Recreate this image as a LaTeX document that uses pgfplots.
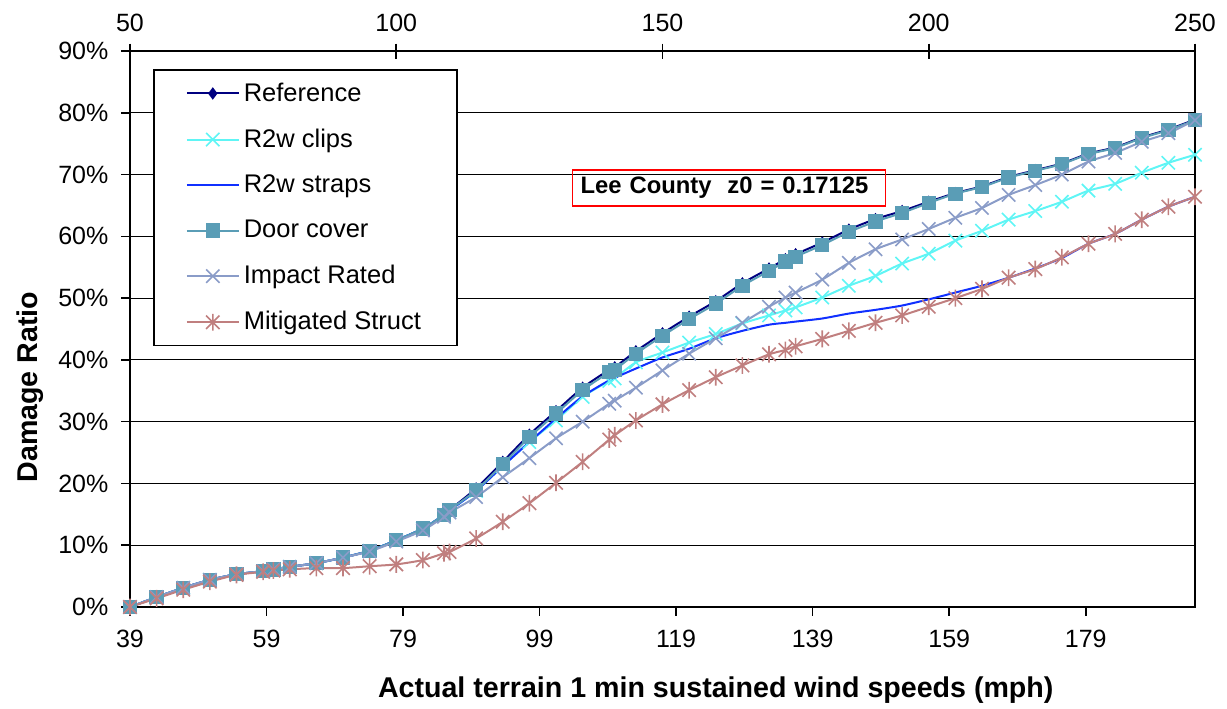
\documentclass[border=0pt]{standalone}
\usepackage{fontspec}
\setmainfont{Liberation Sans}
\usepackage{pgfplots}
\pgfplotsset{compat=1.18}
\definecolor{cref}{HTML}{000080}
\definecolor{cclips}{HTML}{5FF5F5}
\definecolor{cstraps}{HTML}{1030FF}
\definecolor{cdoor}{HTML}{5A9DB6}
\definecolor{cimpact}{HTML}{8A9CC8}
\definecolor{cmitig}{HTML}{C07F7F}
\pgfdeclareplotmark{xstar}{%
  \pgfpathmoveto{\pgfqpoint{0pt}{\pgfplotmarksize}}%
  \pgfpathlineto{\pgfqpoint{0pt}{-\pgfplotmarksize}}%
  \pgfpathmoveto{\pgfqpoint{-.8\pgfplotmarksize}{-.8\pgfplotmarksize}}%
  \pgfpathlineto{\pgfqpoint{.8\pgfplotmarksize}{.8\pgfplotmarksize}}%
  \pgfpathmoveto{\pgfqpoint{-.8\pgfplotmarksize}{.8\pgfplotmarksize}}%
  \pgfpathlineto{\pgfqpoint{.8\pgfplotmarksize}{-.8\pgfplotmarksize}}%
  \pgfusepathqstroke}
\begin{document}
\begin{tikzpicture}
\useasboundingbox (0,0) rectangle (613.5pt,354pt);
\begin{axis}[
  at={(65pt,50.5pt)}, anchor=south west,
  scale only axis, width=532.5pt, height=278pt,
  xmin=50, xmax=250, ymin=0, ymax=90,
  xtick={50,75.641,101.282,126.923,152.564,178.205,203.846,229.487},
  xticklabels={39,59,79,99,119,139,159,179},
  ytick={0,10,20,30,40,50,60,70,80,90},
  yticklabels={0\%,10\%,20\%,30\%,40\%,50\%,60\%,70\%,80\%,90\%},
  xtick pos=bottom, ytick pos=left,
  tick align=outside, major tick length=4.3pt,
  tick style={black, line width=0.8pt},
  ymajorgrids, major grid style={black, line width=0.6pt},
  axis line style={black, line width=1pt},
  tick label style={font=\fontsize{12.5}{14}\selectfont},
  yticklabel style={xshift=-3pt},
  xticklabel style={yshift=-3.5pt},
  xlabel={Actual terrain 1 min sustained wind speeds (mph)},
  ylabel={Damage Ratio},
  label style={font=\bfseries\fontsize{14.3}{16}\selectfont},
  xlabel style={at={(axis description cs:0.550,-0.149)}, anchor=center},
  ylabel style={at={(axis description cs:-0.0939,0.3955)}, anchor=center},
  legend style={at={(axis description cs:0.0216,0.967)}, anchor=north west,
    draw=black, line width=0.8pt, fill=white,
    font=\fontsize{12.75}{14}\selectfont, row sep=8.3pt,
    inner xsep=16pt, inner ysep=4.3pt},
  legend cell align=left,
  legend image code/.code={\draw[mark repeat=2,mark phase=2] plot coordinates {(0pt,0pt) (13pt,0pt) (26pt,0pt)};},
  every axis plot/.append style={smooth, tension=0.4},
]
% Reference
\addplot[color=cref, line width=1pt, mark=diamond*, mark size=2.3pt, mark options={solid, fill=cref}] coordinates {
(50,0) (55,1.6) (60,3.1) (65,4.4) (70,5.3) (75,5.8) (76.92,6.1) (80,6.5) (85,7.1) (90,8.0) (95,9.1) (100,10.8) (105,12.7) (108.97,14.9) (110,15.7) (115,19.2) (120,23.5) (125,27.9) (130,31.7) (135,35.5) (140,38.4) (141.03,38.8) (145,41.4) (150,44.3) (155,47.0) (160,49.5) (165,52.4) (170,54.8) (173.08,56.3) (175,57.1) (180,59.0) (185,61.1) (190,62.8) (195,64.1) (200,65.6) (205,67.0) (210,68.1) (215,69.6) (220,70.7) (225,71.8) (230,73.4) (235,74.4) (240,76.0) (245,77.3) (250,78.9)};
\addlegendentry{Reference}
% R2w clips
\addplot[color=cclips, line width=1pt, mark=x, mark size=4.7pt, mark options={solid, line width=0.8pt}] coordinates {
(50,0) (55,1.6) (60,3.1) (65,4.4) (70,5.3) (75,5.8) (76.92,6.1) (80,6.5) (85,7.1) (90,8.0) (95,9.1) (100,10.8) (105,12.7) (108.97,14.9) (110,15.6) (115,18.8) (120,22.8) (125,26.7) (130,30.2) (135,34.0) (140,36.6) (141.03,37.0) (145,39.6) (150,41.2) (155,42.8) (160,44.2) (165,45.9) (170,47.2) (173.08,48.0) (175,48.5) (180,50.1) (185,52.0) (190,53.6) (195,55.6) (200,57.2) (205,59.3) (210,60.9) (215,62.7) (220,64.1) (225,65.6) (230,67.4) (235,68.5) (240,70.3) (245,71.9) (250,73.2)};
\addlegendentry{R2w clips}
% R2w straps
\addplot[color=cstraps, line width=1pt, no marks] coordinates {
(50,0) (55,1.6) (60,3.1) (65,4.4) (70,5.3) (75,5.8) (76.92,6.1) (80,6.5) (85,7.1) (90,8.0) (95,9.1) (100,10.8) (105,12.7) (108.97,14.9) (110,15.6) (115,18.8) (120,22.8) (125,26.7) (130,30.5) (135,34.1) (140,36.7) (141.03,37.1) (145,38.6) (150,40.4) (155,41.8) (160,43.5) (165,44.7) (170,45.7) (173.08,46.0) (175,46.2) (180,46.7) (185,47.5) (190,48.1) (195,48.8) (200,49.8) (205,50.9) (210,52.0) (215,53.3) (220,54.8) (225,56.5) (230,58.8) (235,60.4) (240,62.7) (245,64.8) (250,66.4)};
\addlegendentry{R2w straps}
% Door cover
\addplot[color=cdoor, line width=1pt, mark=square*, mark size=3.1pt, mark options={solid, fill=cdoor}] coordinates {
(50,0) (55,1.6) (60,3.1) (65,4.4) (70,5.3) (75,5.8) (76.92,6.1) (80,6.5) (85,7.1) (90,8.0) (95,9.1) (100,10.8) (105,12.7) (108.97,14.9) (110,15.7) (115,18.9) (120,23.1) (125,27.5) (130,31.3) (135,35.1) (140,38.0) (141.03,38.4) (145,41.0) (150,43.9) (155,46.6) (160,49.1) (165,52.0) (170,54.4) (173.08,55.9) (175,56.7) (180,58.6) (185,60.7) (190,62.4) (195,63.8) (200,65.4) (205,66.9) (210,68.0) (215,69.5) (220,70.6) (225,71.7) (230,73.3) (235,74.3) (240,75.9) (245,77.2) (250,78.8)};
\addlegendentry{Door cover}
% Impact Rated
\addplot[color=cimpact, line width=1pt, mark=x, mark size=4.7pt, mark options={solid, line width=0.8pt}] coordinates {
(50,0) (55,1.6) (60,3.1) (65,4.4) (70,5.3) (75,5.8) (76.92,6.1) (80,6.5) (85,7.1) (90,8.0) (95,9.0) (100,10.6) (105,12.4) (108.97,14.6) (110,15.3) (115,17.8) (120,21.0) (125,24.1) (130,27.3) (135,30.0) (140,32.9) (141.03,33.4) (145,35.5) (150,38.3) (155,41.0) (160,43.5) (165,46.0) (170,48.6) (173.08,50.1) (175,50.9) (180,53.0) (185,55.7) (190,57.9) (195,59.5) (200,61.2) (205,63.0) (210,64.6) (215,66.7) (220,68.3) (225,70.0) (230,72.1) (235,73.5) (240,75.3) (245,76.7) (250,78.8)};
\addlegendentry{Impact Rated}
% Mitigated Struct
\addplot[color=cmitig, line width=1pt, mark=xstar, mark size=4.2pt, mark options={solid, line width=0.8pt}] coordinates {
(50,0) (55,1.4) (60,2.8) (65,4.1) (70,5.2) (75,5.7) (76.92,5.9) (80,6.1) (85,6.3) (90,6.3) (95,6.6) (100,6.9) (105,7.6) (108.97,8.7) (110,8.9) (115,11.1) (120,13.8) (125,16.8) (130,20.1) (135,23.5) (140,27.1) (141.03,27.8) (145,30.2) (150,32.8) (155,35.1) (160,37.2) (165,39.1) (170,40.9) (173.08,41.6) (175,42.2) (180,43.4) (185,44.7) (190,46.0) (195,47.2) (200,48.6) (205,50.0) (210,51.5) (215,53.3) (220,54.7) (225,56.6) (230,58.8) (235,60.4) (240,62.7) (245,64.8) (250,66.4)};
\addlegendentry{Mitigated Struct}
\node[draw=red, line width=0.7pt, anchor=west, inner xsep=4pt, inner ysep=0pt, minimum height=18pt, text width=148.5pt, align=left, font=\bfseries\fontsize{11.9}{13}\selectfont] at (axis cs:133.0,67.8) {Lee County\ \ z0 = 0.17125};
\end{axis}
\begin{axis}[
  at={(65pt,50.5pt)}, anchor=south west,
  scale only axis, width=532.5pt, height=278pt,
  xmin=50, xmax=250, ymin=0, ymax=90,
  axis x line*=top, hide y axis,
  xtick={50,100,150,200,250},
  tick align=center, major tick length=7.5pt,
  tick style={black, line width=0.8pt},
  axis line style={black, line width=1pt},
  tick label style={font=\fontsize{12.5}{14}\selectfont},
  xticklabel style={yshift=2.5pt},
  /pgf/number format/assume math mode=true,
]
\addplot[draw=none] coordinates {(50,0) (250,90)};
\end{axis}
\end{tikzpicture}
\end{document}
